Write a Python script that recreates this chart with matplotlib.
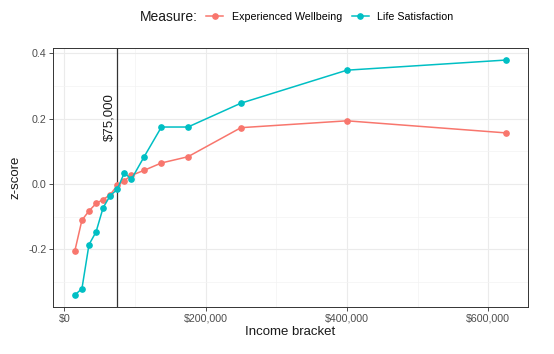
import numpy as np
import matplotlib
matplotlib.use("Agg")
import matplotlib.pyplot as plt
from matplotlib.ticker import FuncFormatter, MultipleLocator

# data
income=[15000,25000,35000,45000,55000,65000,75000,85000,95000,112500,137500,175000,250000,400000,625000]
wellbeing=[-0.205,-0.111,-0.083,-0.060,-0.048,-0.033,-0.005,0.010,0.026,0.041,0.064,0.083,0.172,0.193,0.156]
lifesat=[-0.340,-0.321,-0.186,-0.147,-0.073,-0.036,-0.017,0.034,0.014,0.081,0.174,0.174,0.247,0.348,0.379]
measures=["Experienced Wellbeing","Life Satisfaction"]
colors=["#F8766D","#00BFC4"]
cutoff=75000

plt.rcParams['font.family']='Liberation Sans'

f0=plt.figure(figsize=(5.54,3.54),dpi=100)
ax0=f0.add_axes([0.0962,0.1336,0.8560,0.7300])

for s0,c0,lab in zip([wellbeing,lifesat],colors,measures):
    ax0.plot(income,s0,color=c0,lw=1.1,marker='o',ms=3.8,label=lab,zorder=3)

ax0.axvline(cutoff,color='#333333',lw=0.9,zorder=2)
ax0.text(cutoff-2500,0.204,"$75,000",rotation=90,ha='right',va='center',fontsize=9.5,color='#1a1a1a')

# axes
ax0.set_xlim(-15500,655500)
ax0.set_ylim(-0.376,0.415)
ax0.xaxis.set_major_locator(MultipleLocator(200000))
ax0.xaxis.set_minor_locator(MultipleLocator(100000))
ax0.yaxis.set_major_locator(MultipleLocator(0.2))
ax0.yaxis.set_minor_locator(MultipleLocator(0.1))
ax0.xaxis.set_major_formatter(FuncFormatter(lambda v,p: "$"+format(int(v),",")))
ax0.yaxis.set_major_formatter(FuncFormatter(lambda v,p: "%.1f"%v))
ax0.grid(which='major',color='#EBEBEB',lw=0.8)
ax0.grid(which='minor',color='#F3F3F3',lw=0.5)
ax0.set_axisbelow(True)
ax0.tick_params(which='major',length=3,width=0.6,color='#333333',labelsize=7.7,labelcolor='#4D4D4D',pad=2)
ax0.tick_params(which='minor',length=0)
for sp in ax0.spines.values():
    sp.set_color('#333333');sp.set_linewidth(0.7)

ax0.set_xlabel("Income bracket",fontsize=9.5,color='#1a1a1a',labelpad=2)
ax0.set_ylabel("z-score",fontsize=9.5,color='#1a1a1a',labelpad=5)

# legend
f0.text(140/554,0.952,"Measure:",fontsize=10,color='#1a1a1a',ha='left',va='center')
lines=ax0.get_lines()[:2]
f0.legend(lines,measures,loc='center left',bbox_to_anchor=(206/554,0.952),ncol=2,frameon=False,
    fontsize=7.7,handlelength=1.6,columnspacing=0.9,handletextpad=0.8,borderaxespad=0,borderpad=0)

f0.savefig("out.png",dpi=100)
